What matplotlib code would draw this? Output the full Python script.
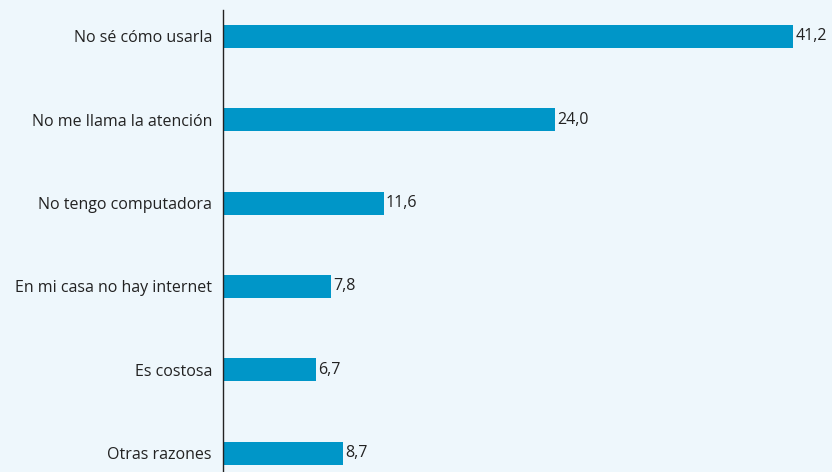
import matplotlib.pyplot as plt

categories = ["No sé cómo usarla", "No me llama la atención", "No tengo computadora",
              "En mi casa no hay internet", "Es costosa", "Otras razones"]
values = [41.2, 24.0, 11.6, 7.8, 6.7, 8.7]
value_labels = ["41,2", "24,0", "11,6", "7,8", "6,7", "8,7"]

bg = "#EEF7FC"
bar_color = "#0096C8"
text_color = "#222222"

plt.rcParams['font.family'] = ['Open Sans', 'DejaVu Sans']

fig = plt.figure(figsize=(8.32, 4.72), dpi=100, facecolor=bg)
ax = fig.add_axes([223 / 832, 0, 1 - 223 / 832, 1 - 10 / 472])
ax.set_facecolor(bg)

pos = list(range(len(categories)))
bars = ax.barh(pos, values, height=0.276, color=bar_color)
for b, lab in zip(bars, value_labels):
    ax.text(b.get_width() + 0.15, b.get_y() + b.get_height() / 2, lab,
            va="center", ha="left", fontsize=11.5, color=text_color)

ax.set_xlim(0, 44.0)
ax.set_ylim(5.228, -0.318)
ax.set_yticks(pos)
ax.set_yticklabels(categories, fontsize=11.5, color=text_color)
ax.tick_params(axis="y", length=0, pad=8)
ax.set_xticks([])
for s in ["top", "right", "bottom"]:
    ax.spines[s].set_visible(False)
ax.spines["left"].set_color("#222222")
ax.spines["left"].set_linewidth(1.0)

fig.savefig("out.png", dpi=100, facecolor=bg)
